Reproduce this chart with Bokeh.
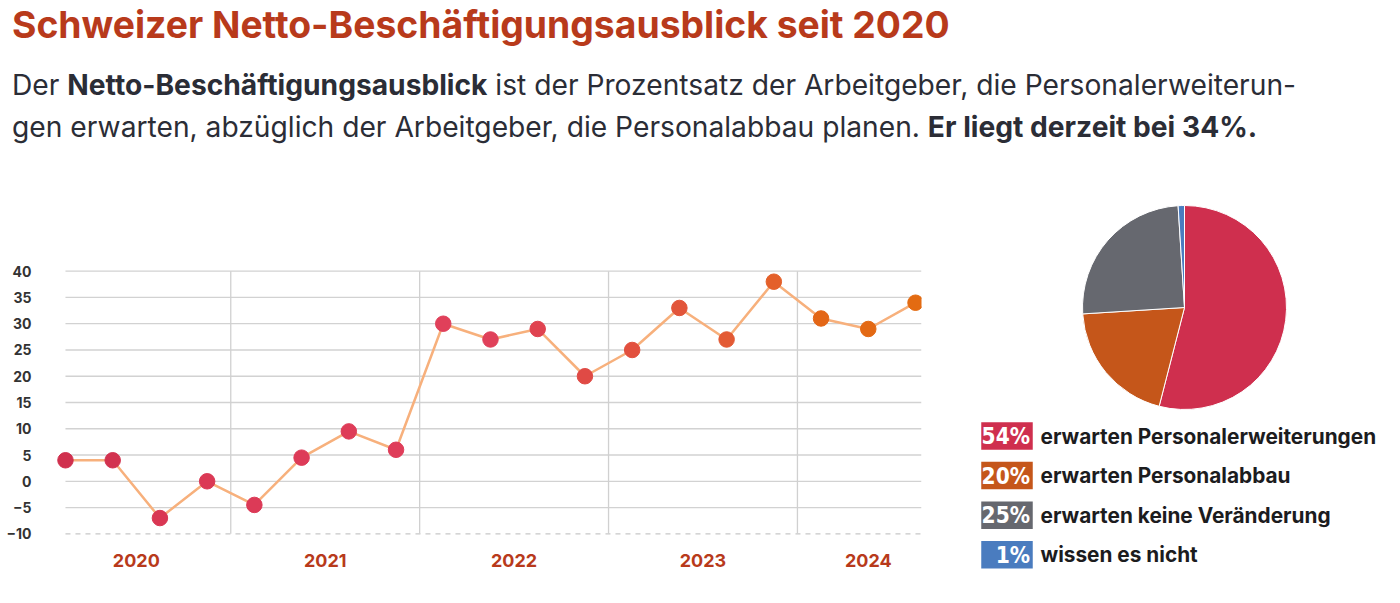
from bokeh.plotting import figure
from bokeh.models import Div, FixedTicker, Range1d, ColumnDataSource
from bokeh.layouts import column, row
from bokeh.core.properties import value
from bokeh.embed import file_html
from bokeh.resources import INLINE
import math

# ---------------- data ----------------
quarter_index = list(range(19))
quarter_year = [2020] * 4 + [2021] * 4 + [2022] * 4 + [2023] * 4 + [2024] * 3
neo_values = [4, 4, -7, 0, -4.5, 4.5, 9.5, 6, 30, 27, 29, 20, 25, 33, 27, 38, 31, 29, 34]
years = [2020, 2021, 2022, 2023, 2024]
y_ticks = [-10, -5, 0, 5, 10, 15, 20, 25, 30, 35, 40]

pie_shares = [54, 20, 25, 1]
pie_labels = ["erwarten Personalerweiterungen", "erwarten Personalabbau",
              "erwarten keine Veränderung", "wissen es nicht"]
pie_colors = ["#cf2f4e", "#c5561a", "#66686f", "#4a7cbf"]

point_colors = ["#d0304e", "#d2324f", "#d93753", "#db3955", "#dc3a57", "#dd3b58", "#de3c58", "#df3d59",
                "#e0405a", "#e0415a", "#e04350", "#e04a45", "#e2503e", "#e2553a", "#e35a34", "#e4602a",
                "#e36616", "#e36914", "#e36b12"]

TITLE_COLOR = "#b83a1b"
FONT = "Inter"
CONDENSED = "DejaVu Sans Condensed, Roboto Condensed, Liberation Sans Narrow, Roboto, sans-serif"

# ---------------- header ----------------
header = Div(
    text=(
        f'<div style="font-family:{FONT};font-weight:700;font-size:37.3px;line-height:44px;'
        f'color:{TITLE_COLOR};margin-top:3px;white-space:nowrap;">'
        'Schweizer Netto-Beschäftigungsausblick seit 2020</div>'
        f'<div style="font-family:{FONT};font-weight:400;font-size:28.2px;line-height:42px;'
        'color:#2b2d36;margin-top:17px;white-space:nowrap;">'
        'Der <b>Netto-Beschäftigungsausblick</b> ist der Prozentsatz der Arbeitgeber, die Personalerweiterun-<br>'
        'gen erwarten, abzüglich der Arbeitgeber, die Personalabbau planen. <b>Er liegt derzeit bei 34%.</b></div>'
    ),
    width=1388, height=180, margin=(0, 0, 0, 12),
)

# ---------------- line chart ----------------
ROW_H = 423
src = ColumnDataSource(dict(x=quarter_index, y=neo_values, c=point_colors))

p = figure(width=940, height=ROW_H, output_backend="svg", toolbar_location=None,
           x_range=Range1d(-0.19, 18.127), y_range=Range1d(-23.27, 57.27),
           x_axis_location=None,
           min_border_left=56, min_border_right=19, min_border_top=0, min_border_bottom=0)
p.outline_line_color = None
p.grid.visible = False

# horizontal grid lines (from first quarter to right edge)
grid_solid = [t for t in y_ticks if t > y_ticks[0]]
p.segment(x0=[quarter_index[0]] * len(grid_solid), x1=[p.x_range.end] * len(grid_solid),
          y0=grid_solid, y1=grid_solid, line_color="#d2d2d2", line_width=1.3)
p.segment(x0=[quarter_index[0]], x1=[p.x_range.end], y0=[y_ticks[0]], y1=[y_ticks[0]],
          line_color="#c8c8c8", line_width=1.3, line_dash="5 5")

# vertical year separators
year_bounds = [quarter_year.index(y) - 0.5 for y in years[1:]]
p.segment(x0=year_bounds, x1=year_bounds, y0=[y_ticks[0]] * len(year_bounds),
          y1=[y_ticks[-1]] * len(year_bounds), line_color="#d0d0d0", line_width=1.3)

p.line("x", "y", source=src, line_color="#f7b07c", line_width=2.5)
p.scatter("x", "y", source=src, size=15.5, fill_color="c", line_color="c", line_width=1)

# year labels under the chart
year_centers = [sum(i for i, yy in zip(quarter_index, quarter_year) if yy == y) /
                quarter_year.count(y) for y in years]
p.text(x=year_centers, y=[y_ticks[0]] * len(years), text=[str(y) for y in years],
       y_offset=27, text_align="center", text_baseline="middle",
       text_font=value(FONT), text_font_style="bold", text_font_size="18px",
       text_color=TITLE_COLOR)

p.yaxis.ticker = FixedTicker(ticks=y_ticks)
p.yaxis.axis_line_color = None
p.yaxis.major_tick_line_color = None
p.yaxis.minor_tick_line_color = None
p.yaxis.major_tick_out = 0
p.yaxis.major_label_standoff = 25
p.yaxis.major_label_text_font = FONT
p.yaxis.major_label_text_font_style = "bold"
p.yaxis.major_label_text_font_size = "14px"
p.yaxis.major_label_text_color = "#333333"

# ---------------- pie + legend ----------------
q = figure(width=460, height=ROW_H, output_backend="svg", toolbar_location=None,
           x_range=Range1d(0, 460), y_range=Range1d(0, ROW_H),
           x_axis_location=None, y_axis_location=None, min_border=0)
q.outline_line_color = None
q.grid.visible = False

total = sum(pie_shares)
cum = [0]
for s in pie_shares:
    cum.append(cum[-1] + s)
starts = [math.pi / 2 - 2 * math.pi * c / total for c in cum[:-1]]
ends = [math.pi / 2 - 2 * math.pi * c / total for c in cum[1:]]
q.wedge(x=244, y=296, radius=102, start_angle=starts, end_angle=ends, direction="clock",
        fill_color=pie_colors, line_color="white", line_width=1)

row_y = [167.5 - 39.6 * i for i in range(len(pie_shares))]
q.rect(x=[66.5] * len(pie_shares), y=row_y, width=51.5, height=27.5,
       fill_color=pie_colors, line_color=None)
q.text(x=[89.5] * len(pie_shares), y=row_y, text=[f"{s}%" for s in pie_shares],
       text_align="right", text_baseline="middle", text_color="white",
       text_font=value(CONDENSED), text_font_style="bold", text_font_size="22.5px")
q.text(x=[100] * len(pie_shares), y=row_y, text=pie_labels,
       text_align="left", text_baseline="middle", text_color="#1c1c1e",
       text_font=value(FONT), text_font_style="bold", text_font_size="20.8px")

layout = column(header, row(p, q, spacing=0), spacing=0)
open("out.html", "w").write(file_html(layout, INLINE))
